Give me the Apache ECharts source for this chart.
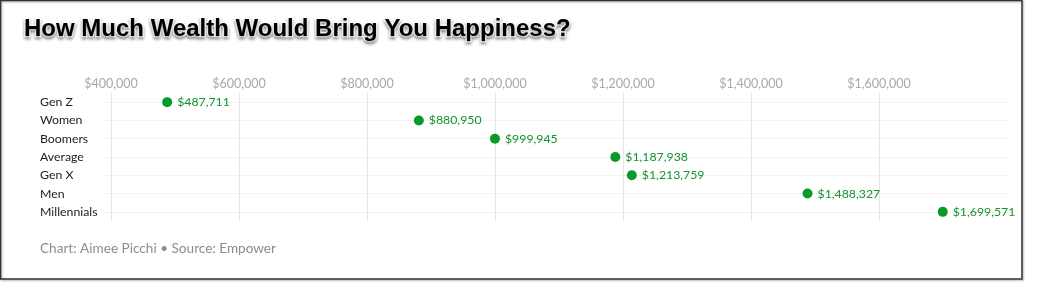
<!DOCTYPE html>
<html>
<head>
<meta charset="utf-8">
<script src="https://cdn.jsdelivr.net/npm/echarts@6/dist/echarts.min.js"></script>
<style>
html,body{margin:0;padding:0;background:#fff;}
#chart{width:1044px;height:301px;}
</style>
</head>
<body>
<div id="chart"></div>
<script>
const categories = ['Gen Z', 'Women', 'Boomers', 'Average', 'Gen X', 'Men', 'Millennials'];
const values = [487711, 880950, 999945, 1187938, 1213759, 1488327, 1699571];
const tickValues = [400000, 600000, 800000, 1000000, 1200000, 1400000, 1600000];

const fmt = v => '$' + v.toLocaleString('en-US');
const FONT = 'Lato, "Open Sans", sans-serif';

const chart = echarts.init(document.getElementById('chart'), null, {renderer: 'canvas'});
chart.setOption({
  animation: false,
  backgroundColor: '#fff',
  title: [{
    text: 'How Much Wealth Would Bring You Happiness?',
    left: 24, top: 17, padding: 0,
    textStyle: {
      fontFamily: '"Liberation Sans", Arial, sans-serif',
      fontWeight: 'bold', fontSize: 24, color: '#000',
      textBorderColor: '#fff', textBorderWidth: 3,
      textShadowColor: 'rgba(0,0,0,0.35)', textShadowBlur: 3, textShadowOffsetY: 2
    }
  }, {
    text: 'Chart: Aimee Picchi \u2022 Source: Empower',
    left: 40, top: 242, padding: 0,
    textStyle: {fontFamily: FONT, fontWeight: 'normal', fontSize: 13.6, color: '#8c8c8c'}
  }],
  graphic: [{
    type: 'rect', silent: true,
    shape: {x: 0.5, y: 0.5, width: 1021.5, height: 278.5},
    style: {fill: 'none', stroke: '#333', lineWidth: 1.5,
      shadowColor: 'rgba(0,0,0,0.35)', shadowBlur: 2, shadowOffsetX: 1, shadowOffsetY: 1}
  }],
  grid: {left: 104, right: 37, top: 93, height: 128},
  xAxis: {
    type: 'value', position: 'top',
    min: 389000, max: 1800000,
    axisLine: {show: false},
    axisTick: {show: false, customValues: tickValues},
    axisLabel: {
      customValues: tickValues,
      formatter: v => fmt(v),
      color: '#a8a8a8', fontFamily: FONT, fontSize: 12.5, margin: 3
    },
    splitLine: {show: true, lineStyle: {color: '#e6e6e6', width: 1}}
  },
  yAxis: {
    type: 'category', inverse: true, data: categories,
    axisLine: {show: false},
    axisTick: {show: false},
    axisLabel: {align: 'left', margin: 64, color: '#222', fontFamily: FONT, fontSize: 12.3},
    splitLine: {show: true, alignWithLabel: true, lineStyle: {color: '#e4e4e4', type: [1, 1], width: 1}}
  },
  series: [{
    type: 'scatter',
    data: values.map((v, i) => [v, categories[i]]),
    symbolSize: 10,
    itemStyle: {color: '#0a9a2a', opacity: 1},
    label: {
      show: true, position: 'right', distance: 5,
      formatter: p => fmt(p.value[0]),
      color: '#14942f', fontFamily: FONT, fontSize: 12.3
    }
  }]
});
</script>
</body>
</html>
